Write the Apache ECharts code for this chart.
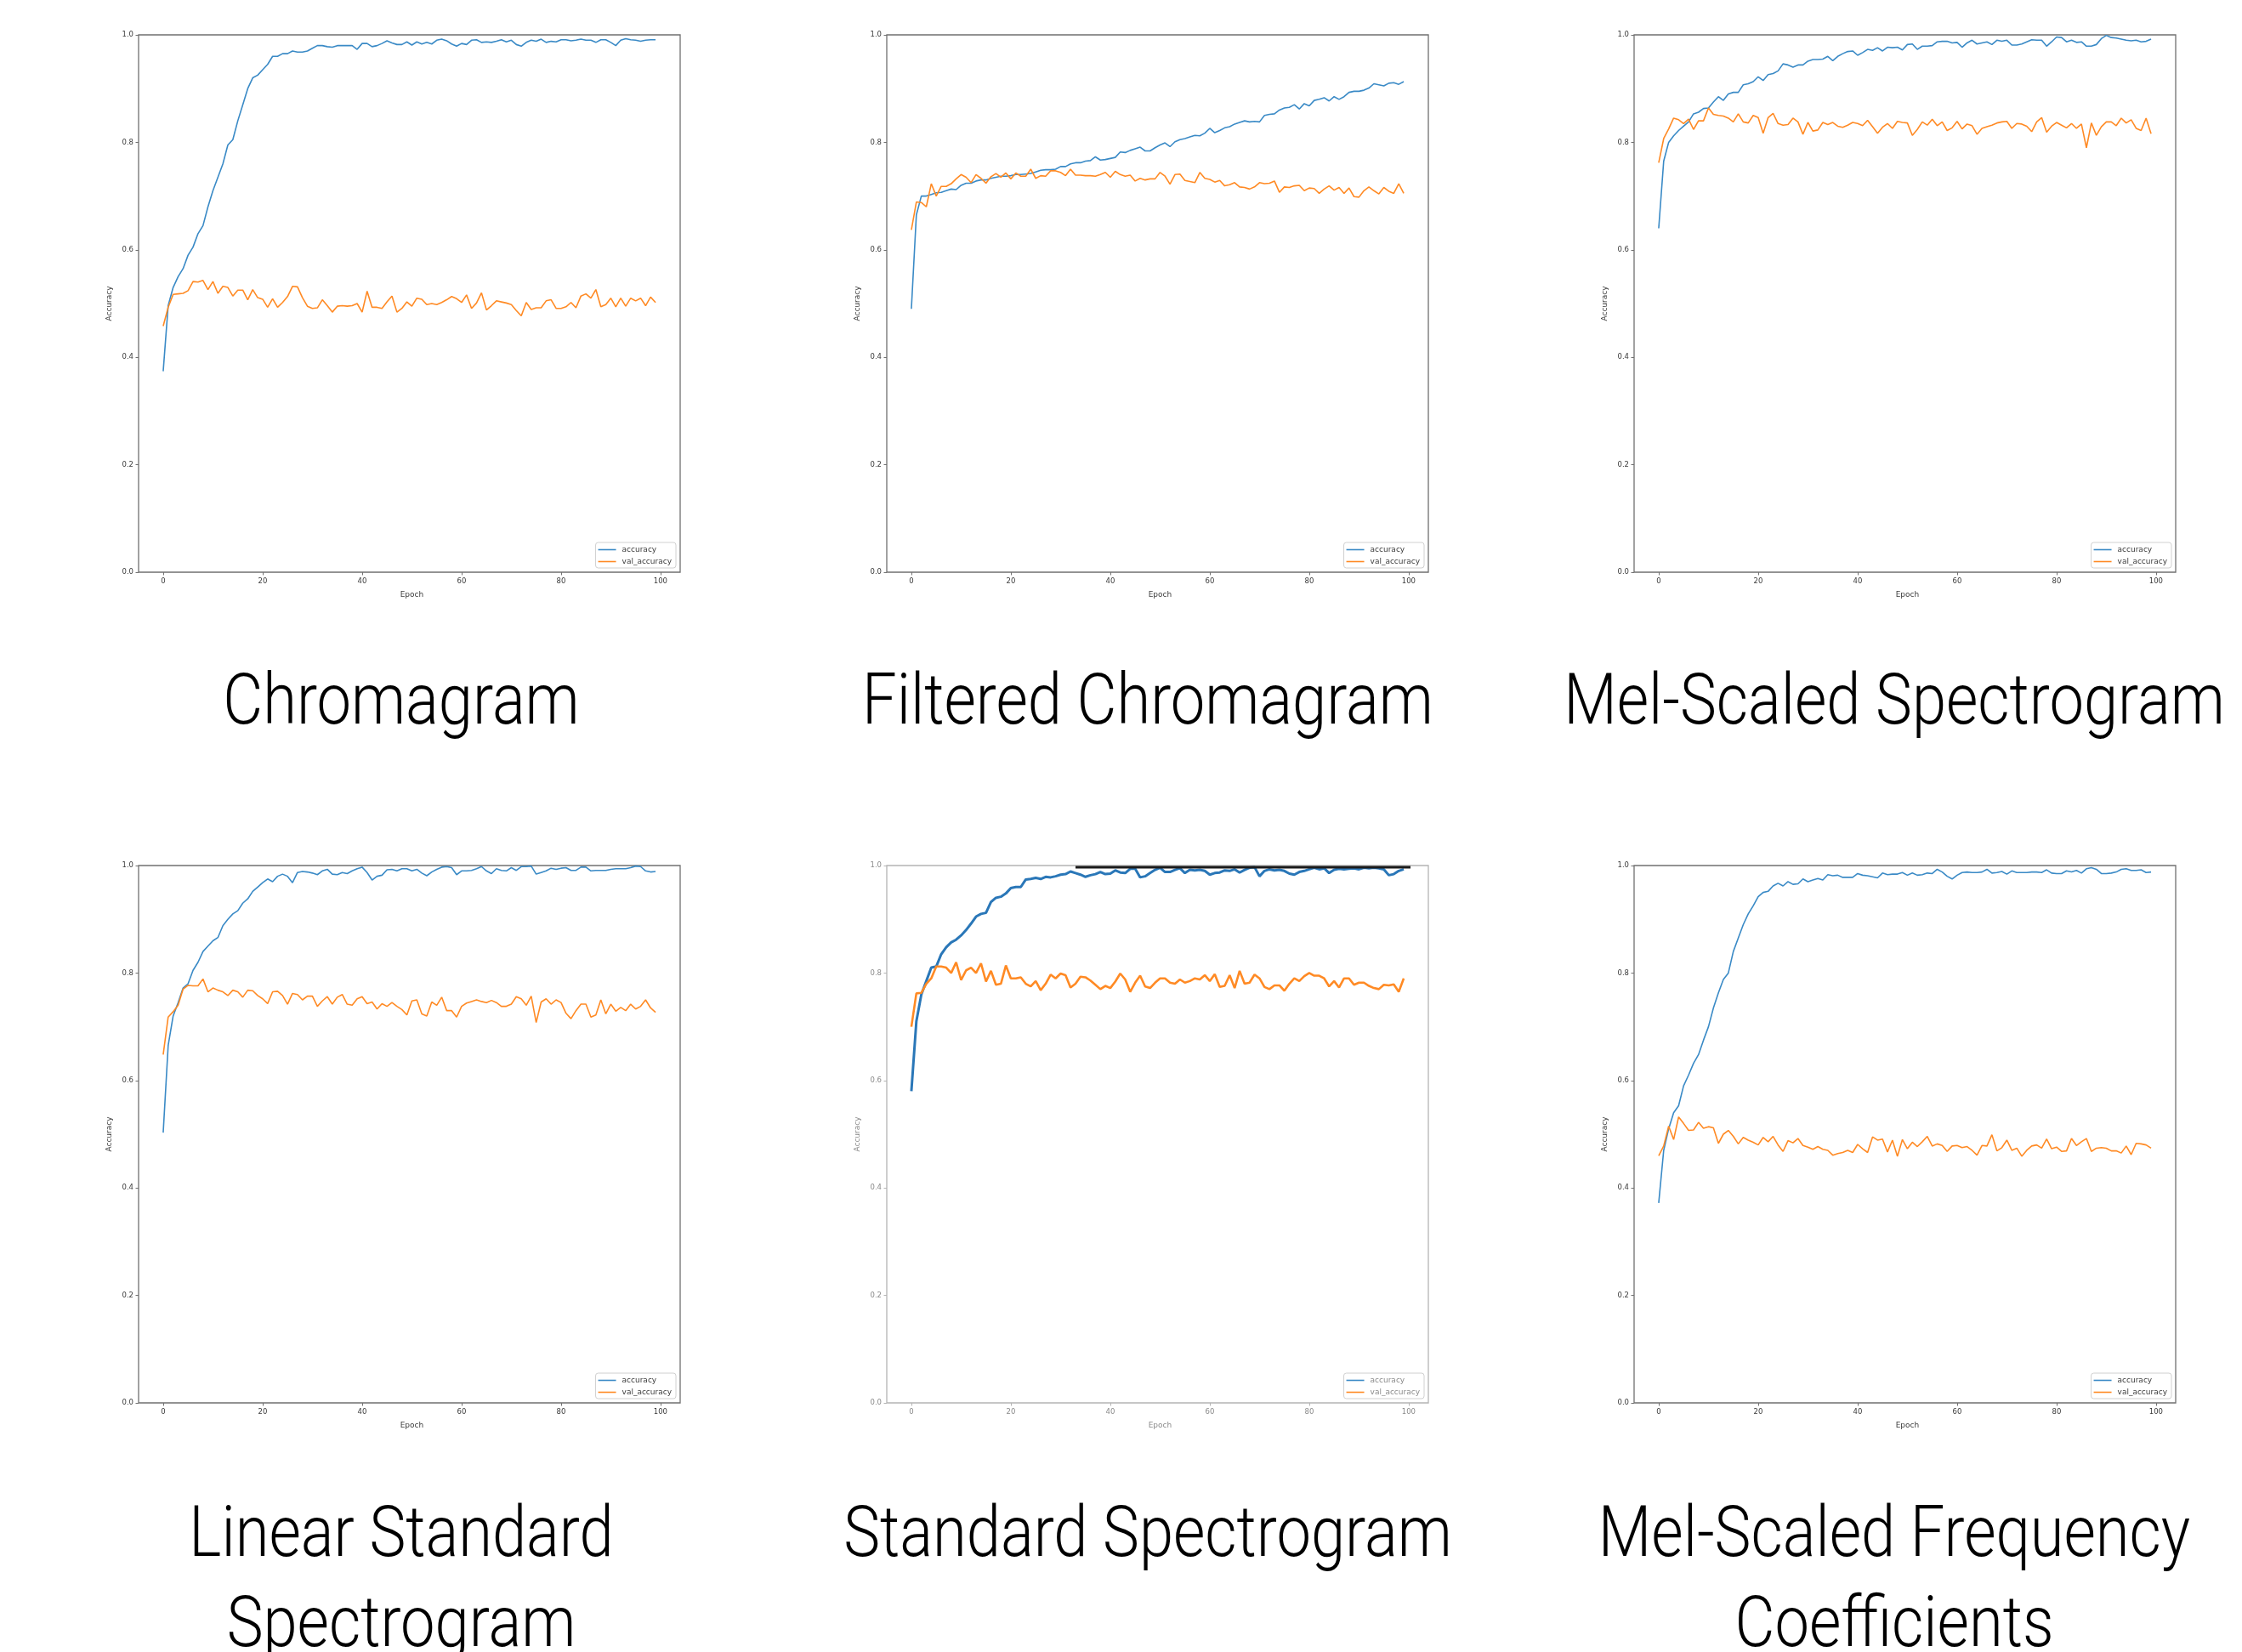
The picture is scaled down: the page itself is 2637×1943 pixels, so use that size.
<!DOCTYPE html>
<html>
<head>
<meta charset="utf-8">
<title>Accuracy per feature type</title>
<script src="https://cdn.jsdelivr.net/npm/echarts@6/dist/echarts.min.js"></script>
<style>
  html, body { margin: 0; padding: 0; background: #fff; }
  #main { width: 2637px; height: 1943px; }
</style>
</head>
<body>
<div id="main"></div>
<script>
// axis ranges
var xRange = [0, 100];
var xPad = 4.95;            // matplotlib margin around epochs 0..99
var yRange = [0, 1];
var panelTitles = ['Chromagram', 'Filtered Chromagram', 'Mel-Scaled Spectrogram',
  'Linear Standard\nSpectrogram', 'Standard Spectrogram', 'Mel-Scaled Frequency\nCoefficients'];

// Chromagram
var chromaAcc = [0.374,0.496,0.53,0.55,0.565,0.59,0.605,0.63,0.645,0.68,0.71,0.735,0.76,0.795,0.805,0.84,0.87,0.90,0.92,0.925,
  0.935,0.945,0.96,0.96,0.965,0.965,0.97,0.968,0.968,0.97,0.975,0.98,0.98,0.978,0.977,0.98,0.98,0.98,0.98,0.973,
  0.984,0.984,0.978,0.98,0.984,0.989,0.985,0.982,0.982,0.987,0.981,0.987,0.983,0.986,0.983,0.99,0.992,0.989,0.983,0.979,
  0.984,0.982,0.99,0.991,0.986,0.987,0.986,0.988,0.991,0.987,0.99,0.982,0.979,0.986,0.99,0.988,0.992,0.986,0.988,0.987,
  0.991,0.991,0.989,0.99,0.992,0.99,0.99,0.986,0.991,0.991,0.986,0.98,0.99,0.993,0.991,0.99,0.988,0.99,0.991,0.991];
var chromaVal = [0.458,0.493,0.517,0.518,0.519,0.524,0.541,0.54,0.543,0.526,0.541,0.519,0.532,0.53,0.514,0.525,0.525,0.507,0.526,0.511,
  0.508,0.493,0.509,0.493,0.502,0.513,0.532,0.531,0.511,0.495,0.491,0.492,0.507,0.496,0.484,0.495,0.496,0.495,0.496,0.5,
  0.484,0.523,0.493,0.493,0.491,0.503,0.514,0.484,0.491,0.503,0.495,0.51,0.508,0.498,0.5,0.498,0.502,0.507,0.513,0.509,
  0.502,0.516,0.491,0.501,0.52,0.488,0.496,0.505,0.503,0.501,0.498,0.487,0.477,0.502,0.489,0.492,0.492,0.505,0.507,0.491,
  0.491,0.494,0.502,0.492,0.514,0.518,0.51,0.526,0.494,0.498,0.51,0.494,0.51,0.495,0.51,0.505,0.51,0.496,0.512,0.502];

// Filtered Chromagram
var filtAcc = [0.49,0.665,0.70,0.70,0.703,0.706,0.707,0.71,0.713,0.712,0.72,0.724,0.724,0.728,0.73,0.73,0.733,0.735,0.737,0.737,
  0.738,0.74,0.74,0.741,0.742,0.745,0.748,0.749,0.749,0.75,0.755,0.755,0.76,0.762,0.762,0.765,0.766,0.773,0.767,0.768,
  0.77,0.772,0.782,0.781,0.785,0.788,0.791,0.784,0.784,0.79,0.795,0.799,0.792,0.801,0.805,0.807,0.81,0.813,0.812,0.817,
  0.826,0.818,0.822,0.827,0.829,0.834,0.837,0.84,0.838,0.839,0.838,0.85,0.852,0.853,0.86,0.864,0.865,0.87,0.862,0.872,
  0.868,0.878,0.88,0.883,0.877,0.885,0.88,0.885,0.893,0.895,0.895,0.897,0.901,0.909,0.907,0.905,0.91,0.911,0.908,0.913];
var filtVal = [0.637,0.689,0.688,0.68,0.723,0.70,0.718,0.718,0.723,0.732,0.74,0.735,0.725,0.74,0.733,0.724,0.736,0.742,0.735,0.743,
  0.732,0.743,0.737,0.737,0.75,0.733,0.738,0.737,0.747,0.747,0.744,0.738,0.75,0.739,0.739,0.738,0.738,0.737,0.74,0.744,
  0.735,0.746,0.74,0.737,0.739,0.728,0.733,0.73,0.732,0.732,0.744,0.737,0.722,0.74,0.741,0.729,0.727,0.725,0.744,0.733,
  0.731,0.726,0.729,0.719,0.721,0.725,0.717,0.716,0.713,0.717,0.725,0.723,0.724,0.728,0.707,0.717,0.716,0.719,0.72,0.71,
  0.715,0.714,0.705,0.713,0.719,0.711,0.716,0.705,0.715,0.699,0.698,0.71,0.717,0.71,0.704,0.716,0.709,0.705,0.723,0.705];

// Mel-Scaled Spectrogram
var melAcc = [0.64,0.765,0.80,0.812,0.822,0.83,0.838,0.853,0.856,0.863,0.864,0.875,0.885,0.878,0.89,0.893,0.893,0.907,0.909,0.913,
  0.922,0.915,0.926,0.928,0.933,0.946,0.944,0.94,0.944,0.944,0.951,0.954,0.954,0.955,0.96,0.952,0.96,0.965,0.969,0.97,
  0.962,0.967,0.973,0.971,0.976,0.97,0.977,0.976,0.977,0.972,0.982,0.983,0.973,0.979,0.979,0.98,0.987,0.988,0.988,0.985,
  0.986,0.977,0.985,0.99,0.983,0.985,0.987,0.982,0.99,0.988,0.99,0.981,0.981,0.983,0.987,0.991,0.99,0.99,0.979,0.987,
  0.996,0.995,0.987,0.99,0.986,0.987,0.979,0.979,0.982,0.993,0.999,0.995,0.994,0.992,0.99,0.989,0.99,0.987,0.988,0.992];
var melVal = [0.762,0.807,0.825,0.845,0.842,0.835,0.843,0.824,0.84,0.84,0.864,0.852,0.85,0.849,0.845,0.838,0.853,0.838,0.836,0.85,
  0.846,0.817,0.846,0.854,0.835,0.832,0.833,0.845,0.838,0.815,0.837,0.821,0.823,0.837,0.833,0.837,0.83,0.828,0.832,0.837,
  0.835,0.831,0.841,0.829,0.817,0.828,0.835,0.826,0.839,0.837,0.836,0.813,0.824,0.838,0.832,0.843,0.831,0.838,0.822,0.827,
  0.839,0.825,0.834,0.831,0.815,0.826,0.829,0.832,0.836,0.838,0.839,0.826,0.835,0.834,0.83,0.82,0.838,0.846,0.819,0.83,
  0.837,0.832,0.827,0.835,0.826,0.834,0.79,0.836,0.813,0.829,0.838,0.838,0.831,0.845,0.836,0.842,0.826,0.822,0.845,0.816];

// Linear Standard Spectrogram
var linAcc = [0.503,0.665,0.72,0.745,0.772,0.78,0.805,0.82,0.84,0.85,0.86,0.866,0.888,0.9,0.91,0.916,0.93,0.938,0.952,0.96,
  0.968,0.975,0.97,0.98,0.984,0.98,0.968,0.987,0.989,0.988,0.986,0.983,0.99,0.993,0.984,0.983,0.987,0.985,0.99,0.994,
  0.997,0.987,0.973,0.98,0.982,0.992,0.993,0.99,0.994,0.994,0.99,0.993,0.986,0.981,0.988,0.993,0.997,0.998,0.996,0.983,
  0.99,0.99,0.991,0.994,0.998,0.99,0.985,0.994,0.991,0.99,0.996,0.991,0.998,0.998,0.999,0.984,0.987,0.99,0.995,0.993,
  0.995,0.996,0.991,0.991,0.997,0.997,0.99,0.991,0.991,0.991,0.993,0.994,0.994,0.994,0.996,0.999,0.998,0.99,0.988,0.989];
var linVal = [0.648,0.718,0.728,0.74,0.77,0.777,0.776,0.776,0.789,0.765,0.772,0.768,0.765,0.758,0.768,0.765,0.755,0.768,0.767,0.758,
  0.752,0.743,0.765,0.766,0.758,0.742,0.762,0.76,0.75,0.757,0.757,0.738,0.748,0.756,0.742,0.755,0.76,0.742,0.74,0.752,
  0.756,0.743,0.746,0.733,0.743,0.738,0.745,0.738,0.732,0.722,0.748,0.75,0.724,0.72,0.746,0.74,0.755,0.73,0.73,0.718,
  0.738,0.744,0.747,0.75,0.747,0.745,0.749,0.745,0.738,0.738,0.742,0.756,0.752,0.74,0.757,0.708,0.746,0.752,0.742,0.75,
  0.745,0.725,0.715,0.73,0.742,0.742,0.718,0.722,0.75,0.724,0.742,0.729,0.736,0.73,0.742,0.733,0.738,0.75,0.735,0.727];

// Standard Spectrogram
var stdAcc = [0.58,0.71,0.76,0.785,0.81,0.812,0.835,0.848,0.857,0.862,0.87,0.88,0.892,0.905,0.91,0.912,0.932,0.94,0.942,0.948,
  0.958,0.96,0.96,0.974,0.975,0.977,0.975,0.979,0.978,0.98,0.983,0.984,0.989,0.986,0.983,0.979,0.982,0.984,0.988,0.984,
  0.985,0.991,0.987,0.986,0.994,0.994,0.978,0.98,0.986,0.992,0.996,0.988,0.988,0.992,0.995,0.986,0.992,0.991,0.992,0.99,
  0.983,0.986,0.987,0.991,0.99,0.993,0.987,0.992,0.996,0.997,0.98,0.99,0.993,0.991,0.992,0.99,0.985,0.983,0.988,0.99,
  0.993,0.996,0.993,0.995,0.986,0.992,0.994,0.993,0.994,0.995,0.993,0.996,0.995,0.996,0.995,0.993,0.982,0.984,0.99,0.993];
var stdVal = [0.70,0.762,0.763,0.78,0.79,0.812,0.812,0.81,0.80,0.82,0.787,0.805,0.81,0.80,0.818,0.784,0.804,0.778,0.78,0.814,
  0.79,0.79,0.792,0.78,0.775,0.785,0.768,0.78,0.797,0.79,0.799,0.796,0.773,0.78,0.793,0.792,0.786,0.778,0.77,0.776,
  0.772,0.784,0.799,0.788,0.765,0.782,0.795,0.775,0.772,0.782,0.79,0.79,0.782,0.78,0.788,0.782,0.785,0.79,0.788,0.796,
  0.785,0.798,0.774,0.776,0.796,0.772,0.804,0.78,0.782,0.797,0.79,0.774,0.77,0.777,0.777,0.767,0.78,0.79,0.785,0.794,
  0.8,0.795,0.795,0.79,0.775,0.785,0.773,0.79,0.79,0.778,0.782,0.782,0.776,0.772,0.77,0.778,0.777,0.779,0.765,0.79];
// the dark stroke along the top edge of that panel
var stdTopEdge = [[33, 0.997], [101, 0.997]];

// Mel-Scaled Frequency Coefficients
var mfccAcc = [0.372,0.47,0.51,0.54,0.553,0.59,0.61,0.632,0.648,0.675,0.70,0.735,0.763,0.788,0.80,0.84,0.865,0.89,0.91,0.925,
  0.942,0.95,0.952,0.962,0.967,0.962,0.97,0.965,0.966,0.975,0.97,0.973,0.976,0.973,0.983,0.981,0.982,0.978,0.978,0.978,
  0.985,0.982,0.981,0.979,0.977,0.986,0.983,0.984,0.984,0.987,0.982,0.986,0.982,0.983,0.986,0.985,0.993,0.988,0.98,0.975,
  0.982,0.987,0.988,0.987,0.987,0.988,0.993,0.986,0.987,0.989,0.984,0.99,0.987,0.987,0.987,0.988,0.988,0.987,0.992,0.986,
  0.985,0.985,0.99,0.988,0.991,0.986,0.994,0.996,0.993,0.985,0.985,0.986,0.988,0.993,0.994,0.991,0.991,0.992,0.987,0.988];
var mfccVal = [0.46,0.478,0.515,0.49,0.532,0.52,0.507,0.508,0.522,0.511,0.514,0.512,0.483,0.5,0.507,0.496,0.482,0.494,0.489,0.485,
  0.48,0.494,0.486,0.496,0.48,0.468,0.488,0.484,0.492,0.479,0.476,0.472,0.477,0.472,0.47,0.461,0.464,0.466,0.47,0.466,
  0.481,0.473,0.466,0.495,0.489,0.491,0.467,0.489,0.459,0.49,0.473,0.485,0.477,0.486,0.496,0.478,0.482,0.479,0.468,0.478,
  0.479,0.475,0.477,0.47,0.461,0.479,0.478,0.499,0.469,0.475,0.489,0.47,0.474,0.459,0.47,0.478,0.48,0.474,0.491,0.473,
  0.476,0.468,0.469,0.492,0.479,0.486,0.492,0.468,0.474,0.475,0.474,0.469,0.469,0.465,0.478,0.462,0.483,0.482,0.48,0.474];

var accList = [chromaAcc, filtAcc, melAcc, linAcc, stdAcc, mfccAcc];
var valList = [chromaVal, filtVal, melVal, linVal, stdVal, mfccVal];

// page layout
var W = 2637, H = 1943;
var colLeft = [163, 1043, 1922];
var rowTop = [41, 1018];
var plotW = 637, plotH = 632;
var titleX = [472, 1350, 2228];
var titleY = [830, 1809];
var titleLine = 106;

var toPairs = function(arr){
  return arr.map(function(v, i){ return [i, v]; });
};
var oneDecimal = function(v){ return v.toFixed(1); };

var grids = [], xAxes = [], yAxes = [], series = [], legends = [], texts = [];
var pxPerEpoch = plotW / (xRange[1] - xRange[0] + 2 * xPad - 1);

for (var p = 0; p < 6; p++) {
  var col = p % 3, row = Math.floor(p / 3);
  var faded = (p == 4); // the standard spectrogram panel is a softer screenshot
  var frame = faded ? '#b4b4b4' : '#707070';
  var lab = faded ? '#8a8a8a' : '#3a3a3a';
  var gLeft = colLeft[col], gTop = rowTop[row];
  var fi = 2 * p, di = 2 * p + 1;

  // outer frame: carries the border and the y axis
  grids.push({ left: gLeft, top: gTop, width: plotW, height: plotH,
    show: true, borderColor: frame, borderWidth: 1.3 });
  // inner data area: spans epoch 0..100, carries the x axis
  grids.push({ left: gLeft + xPad * pxPerEpoch, top: gTop,
    width: (xRange[1] - xRange[0]) * pxPerEpoch, height: plotH });

  xAxes.push({ type: 'value', gridIndex: fi, min: 0, max: 1, show: false });
  yAxes.push({
    type: 'value', gridIndex: fi, min: yRange[0], max: yRange[1], interval: 0.2,
    name: 'Accuracy', nameLocation: 'middle', nameGap: 30,
    nameTextStyle: { fontSize: 9, color: lab, fontFamily: 'DejaVu Sans' },
    axisLine: { show: false }, splitLine: { show: false },
    axisTick: { show: true, length: 3.5, lineStyle: { color: frame } },
    axisLabel: { fontSize: 8.5, color: lab, margin: 6, fontFamily: 'DejaVu Sans', formatter: oneDecimal }
  });
  xAxes.push({
    type: 'value', gridIndex: di, min: xRange[0], max: xRange[1], interval: 20,
    name: 'Epoch', nameLocation: 'middle', nameGap: 22,
    nameTextStyle: { fontSize: 9, color: lab, fontFamily: 'DejaVu Sans' },
    axisLine: { show: false }, splitLine: { show: false },
    axisTick: { show: true, length: 3.5, lineStyle: { color: frame } },
    axisLabel: { fontSize: 8.5, color: lab, margin: 6, fontFamily: 'DejaVu Sans' }
  });
  yAxes.push({ type: 'value', gridIndex: di, min: yRange[0], max: yRange[1], show: false });

  series.push({ name: 'accuracy', type: 'line', xAxisIndex: di, yAxisIndex: di, symbol: 'none',
    lineStyle: { color: faded ? '#2a77b8' : '#3a8ac6', width: faded ? 3 : 1.6 },
    itemStyle: { color: faded ? '#2a77b8' : '#3a8ac6' },
    data: toPairs(accList[p]) });
  series.push({ name: 'val_accuracy', type: 'line', xAxisIndex: di, yAxisIndex: di, symbol: 'none',
    lineStyle: { color: '#ff8a24', width: faded ? 2.6 : 1.6 },
    itemStyle: { color: '#ff8a24' },
    data: toPairs(valList[p]) });
  if (faded) {
    series.push({ name: 'edge', type: 'line', xAxisIndex: di, yAxisIndex: di, symbol: 'none', clip: false,
      lineStyle: { color: '#1a1a1a', width: 3 }, data: stdTopEdge });
  }

  // legend keys are plain line stubs like matplotlib's
  legends.push({
    orient: 'vertical', selectedMode: false,
    right: W - (gLeft + plotW) + 5, bottom: H - (gTop + plotH) + 5,
    data: ['accuracy', 'val_accuracy'],
    icon: 'rect', itemWidth: 21, itemHeight: 1.6, itemGap: 5, padding: [4, 5, 3, 3],
    backgroundColor: '#fff', borderColor: '#d0d0d0', borderWidth: 1, borderRadius: 3,
    textStyle: { fontSize: 9, color: lab, fontFamily: 'DejaVu Sans', padding: [0, 0, 0, 2] }
  });

  // big caption under each plot
  texts.push({
    type: 'text', x: titleX[col], y: titleY[row] - titleLine / 2, scaleX: 0.86,
    style: { text: panelTitles[p], fill: '#000', fontFamily: 'Roboto', fontSize: 84, fontWeight: 300,
      lineHeight: titleLine, textAlign: 'center', textVerticalAlign: 'top' }
  });
}

var chart = echarts.init(document.getElementById('main'), null, { width: W, height: H });
chart.setOption({
  backgroundColor: '#fff',
  animation: false,
  grid: grids,
  xAxis: xAxes,
  yAxis: yAxes,
  legend: legends,
  series: series,
  graphic: texts
});
</script>
</body>
</html>
